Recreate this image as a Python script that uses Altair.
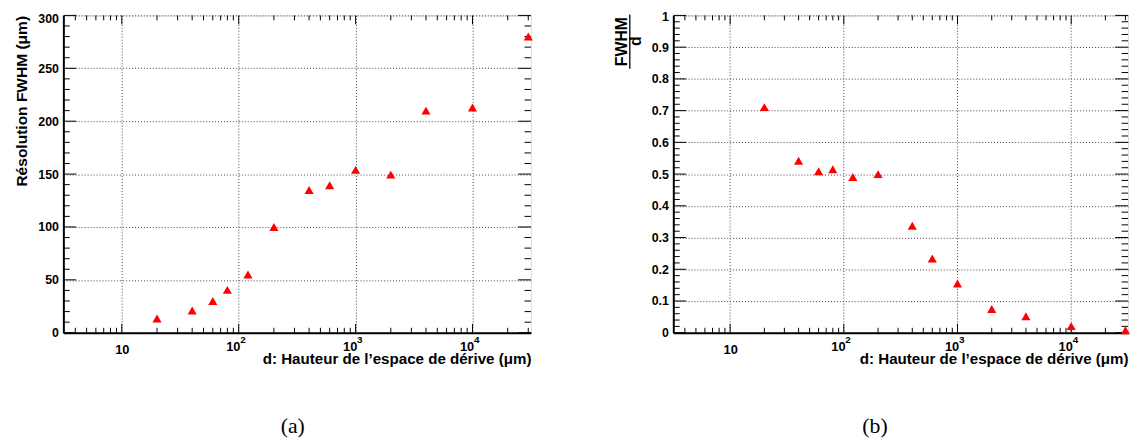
import altair as alt
import pandas as pd

# ---------------- data ----------------
d_um = [20, 40, 60, 80, 120, 200, 400, 600, 1000, 2000, 4000, 10000, 30000]
fwhm_um = [13.5, 21, 30, 40.5, 55, 100, 135, 139.5, 154, 149.5, 210, 213, 280]
fwhm_over_d = [0.711, 0.542, 0.509, 0.515, 0.491, 0.50, 0.337, 0.234, 0.155, 0.075, 0.052, 0.021, 0.008]

x_major = [10, 100, 1000, 10000]
x_tick_base = ["10", "10", "10", "10"]
x_tick_exp = ["", "2", "3", "4"]
x_domain = [3.1623, 31623]

left_y_major = [0, 50, 100, 150, 200, 250, 300]
left_y_minor = [v for v in range(10, 300, 10) if v % 50 != 0]
right_y_major = [0, 0.1, 0.2, 0.3, 0.4, 0.5, 0.6, 0.7, 0.8, 0.9, 1]
right_y_minor = [round(i * 0.02, 2) for i in range(1, 50) if i % 5 != 0]
x_minor = [k * 10 ** e for e in range(0, 5) for k in range(2, 10)
           if x_domain[0] <= k * 10 ** e <= x_domain[1]]

x_title = "d: Hauteur de l’espace de dérive (μm)"
left_y_title = "Résolution FWHM (μm)"

FONT = "Liberation Sans"
TRI = "M0,-0.866L1,0.866L-1,0.866Z"

label_expr = " : ".join(
    f"datum.value == {v} ? '{l}'" for v, l in zip(x_major[:-1], x_tick_base[:-1])
) + f" : '{x_tick_base[-1]}'"

df = pd.DataFrame({"d": d_um, "fwhm": fwhm_um, "ratio": fwhm_over_d})
exp_df = pd.DataFrame({"d": [v for v, e in zip(x_major, x_tick_exp) if e],
                       "e": [e for e in x_tick_exp if e]})


def tick_layers(xs, ys, xax, yax, W, H, ymaj, ymin):
    layers = []
    for vals, ln in ((x_major, 9), (x_minor, 5)):
        src = alt.Chart(pd.DataFrame({"d": vals}))
        layers.append(src.mark_rule(color="black", strokeWidth=1).encode(
            x=alt.X("d:Q", scale=xs, axis=xax), y=alt.value(H), y2=alt.value(H - ln)))
        layers.append(src.mark_rule(color="black", strokeWidth=1).encode(
            x=alt.X("d:Q", scale=xs, axis=xax), y=alt.value(0), y2=alt.value(ln)))
    for vals, ln in ((ymaj, 13), (ymin, 6.5)):
        src = alt.Chart(pd.DataFrame({"y": vals}))
        layers.append(src.mark_rule(color="black", strokeWidth=1).encode(
            y=alt.Y("y:Q", scale=ys, axis=yax), x=alt.value(0), x2=alt.value(ln)))
        layers.append(src.mark_rule(color="black", strokeWidth=1).encode(
            y=alt.Y("y:Q", scale=ys, axis=yax), x=alt.value(W - ln), x2=alt.value(W)))
    # exponents of the 10^k tick labels
    layers.append(alt.Chart(exp_df).mark_text(
        font=FONT, fontWeight="bold", fontSize=10, color="black", align="left",
        baseline="alphabetic", dx=1.5).encode(
        x=alt.X("d:Q", scale=xs, axis=xax), y=alt.value(H + 10.7), text="e:N"))
    return layers


def x_axis(W):
    return alt.Axis(values=x_major, labelExpr=label_expr, ticks=False, tickSize=0,
                    grid=True, gridDash=[1, 2], gridColor="#444", gridWidth=1,
                    domainColor="black", domainWidth=2,
                    labelPadding=alt.condition("datum.value > 10", alt.value(8), alt.value(11)),
                    labelOffset=alt.condition("datum.value > 10", alt.value(-6), alt.value(0)),
                    labelBaseline="top",
                    labelFont=FONT, labelFontWeight="bold", labelFontSize=13,
                    labelColor="black", title=x_title, titleFont=FONT,
                    titleFontWeight="bold", titleFontSize=15.3, titleColor="black",
                    titleAlign="right", titleBaseline="alphabetic", titleAngle=0,
                    titleX=W, titleY=31)


def caption(txt, x, y):
    return alt.Chart(pd.DataFrame({"t": [txt]})).mark_text(
        font="Liberation Serif", fontSize=22, color="black", align="center",
        baseline="alphabetic").encode(x=alt.value(x), y=alt.value(y), text="t:N")


# ---------------- panel (a) ----------------
WA, HA = 473, 321
xsA = alt.Scale(type="log", domain=x_domain, nice=False)
ysA = alt.Scale(domain=[0, 300], nice=False, zero=False)
xaxA = x_axis(WA)
yaxA = alt.Axis(
    values=left_y_major, ticks=False, tickSize=0, grid=True, gridDash=[1, 2],
    gridColor="#444", gridWidth=1, domainColor="black", domainWidth=2,
    labelPadding=5, labelFont=FONT, labelFontWeight="bold", labelFontSize=12.5,
    labelColor="black",
    labelOffset=alt.condition("datum.value == 300", alt.value(3), alt.value(0)),
    title=left_y_title, titleFont=FONT, titleFontWeight="bold",
    titleFontSize=15.7, titleColor="black", titleAngle=270, titleAlign="right",
    titleBaseline="alphabetic", titleX=-37.5, titleY=0)
ptsA = alt.Chart(df).mark_point(shape=TRI, filled=True, color="#ff0000", size=85,
                                opacity=1, strokeWidth=0).encode(
    x=alt.X("d:Q", scale=xsA, axis=xaxA),
    y=alt.Y("fwhm:Q", scale=ysA, axis=yaxA))
panelA = alt.layer(*tick_layers(xsA, ysA, xaxA, yaxA, WA, HA, left_y_major, left_y_minor),
                   ptsA, caption("(a)", 232, 422)).properties(width=WA, height=HA)

# ---------------- panel (b) ----------------
WB, HB = 460, 321
xsB = alt.Scale(type="log", domain=x_domain, nice=False)
ysB = alt.Scale(domain=[0, 1], nice=False, zero=False)
xaxB = x_axis(WB)
yaxB = alt.Axis(
    values=right_y_major, format="~g", ticks=False, tickSize=0, grid=True,
    gridDash=[1, 2], gridColor="#444", gridWidth=1, domainColor="black",
    domainWidth=2, labelPadding=5, labelFont=FONT, labelFontWeight="bold",
    labelFontSize=12.5, labelColor="black",
    labelOffset=alt.condition("datum.value == 1", alt.value(1.5), alt.value(0)),
    title="")
ptsB = alt.Chart(df).mark_point(shape=TRI, filled=True, color="#ff0000", size=85,
                                opacity=1, strokeWidth=0).encode(
    x=alt.X("d:Q", scale=xsB, axis=xaxB),
    y=alt.Y("ratio:Q", scale=ysB, axis=yaxB))
num = alt.Chart(pd.DataFrame({"t": ["FWHM"]})).mark_text(
    font=FONT, fontWeight="bold", fontSize=16, color="black", angle=270,
    align="center", baseline="alphabetic").encode(
    x=alt.value(-47), y=alt.value(26.5), text="t:N")
den = alt.Chart(pd.DataFrame({"t": ["d"]})).mark_text(
    font=FONT, fontWeight="bold", fontSize=16, color="black", angle=270,
    align="center", baseline="alphabetic").encode(
    x=alt.value(-33), y=alt.value(26), text="t:N")
bar = alt.Chart(pd.DataFrame({"t": [1]})).mark_rule(color="black", strokeWidth=1.3).encode(
    x=alt.value(-44), y=alt.value(-1), y2=alt.value(54))
panelB = alt.layer(*tick_layers(xsB, ysB, xaxB, yaxB, WB, HB, right_y_major, right_y_minor),
                   ptsB, num, den, bar, caption("(b)", 204, 422)).properties(width=WB, height=HB)

chart = alt.hconcat(panelA, panelB, spacing=80).properties(
    padding={"left": 5, "top": 0, "right": 0, "bottom": 0}
).configure_view(stroke="black", strokeWidth=1.5).configure(background="white")

chart.save("out.html", embed_options={"renderer": "svg", "actions": False})
